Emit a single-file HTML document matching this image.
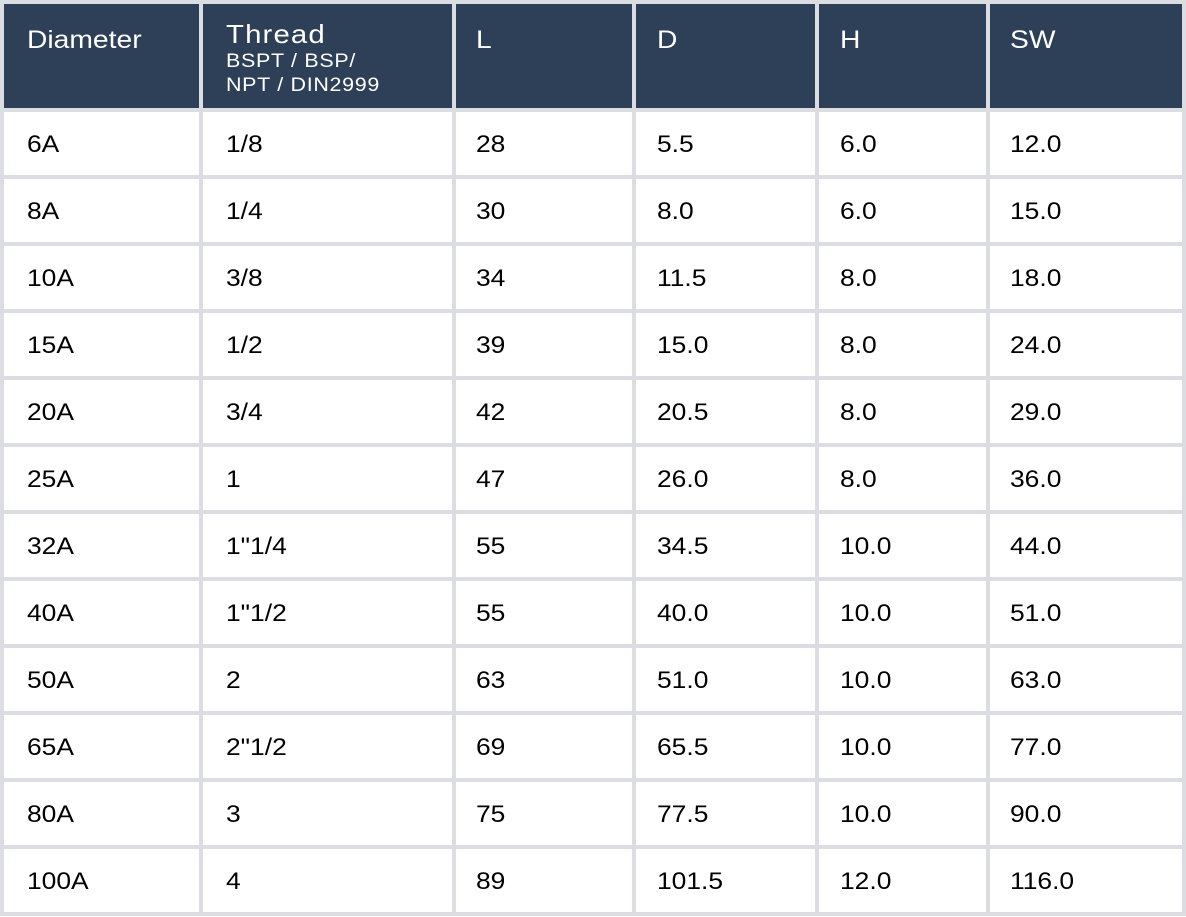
<!DOCTYPE html>
<html><head><style>
body{margin:0;width:1186px;height:917px;background:#fff;font-family:"Liberation Sans",Arial,sans-serif;position:relative;overflow:hidden}
.bg{position:absolute;left:0;top:0;width:1186px;height:916px;background:#dcdde2}
.c{position:absolute;background:#fff;color:#000;font-size:24px;box-sizing:border-box;display:flex;align-items:center}
.c span{display:inline-block;transform:scaleX(1.1);transform-origin:left center;white-space:nowrap}
.h{background:#2e4058;color:#fff;align-items:flex-start;padding-top:22px;font-size:25px}
.h span{transform:scaleX(1.13)}
.sub{font-size:19px;line-height:24px;letter-spacing:0.6px;margin-top:3px}
</style></head><body>
<div class="bg"></div>
<div id="t"></div>
<script>
var xs=[[4,199,23],[203,452,23],[456,632,20],[636,815,21],[819,986,21],[990,1182,20]];
var head=["Diameter","<div style='font-size:26px;letter-spacing:1px;line-height:26px;margin-top:-5px'>Thread</div><div class='sub'>BSPT / BSP/<br>NPT / DIN2999</div>","L","D","H","SW"];
var rows=[["6A","1/8","28","5.5","6.0","12.0"],["8A","1/4","30","8.0","6.0","15.0"],["10A","3/8","34","11.5","8.0","18.0"],["15A","1/2","39","15.0","8.0","24.0"],["20A","3/4","42","20.5","8.0","29.0"],["25A","1","47","26.0","8.0","36.0"],["32A","1\"1/4","55","34.5","10.0","44.0"],["40A","1\"1/2","55","40.0","10.0","51.0"],["50A","2","63","51.0","10.0","63.0"],["65A","2\"1/2","69","65.5","10.0","77.0"],["80A","3","75","77.5","10.0","90.0"],["100A","4","89","101.5","12.0","116.0"]];
var h="";
xs.forEach(function(x,j){h+="<div class='c h' style='left:"+x[0]+"px;top:4px;width:"+(x[1]-x[0])+"px;height:104px;padding-left:"+x[2]+"px'><span>"+head[j]+"</span></div>";});
rows.forEach(function(r,i){var y=112+i*67;xs.forEach(function(x,j){h+="<div class='c' style='left:"+x[0]+"px;top:"+y+"px;width:"+(x[1]-x[0])+"px;height:63px;padding-left:"+x[2]+"px;padding-top:2px'><span>"+r[j]+"</span></div>";});});
document.getElementById("t").innerHTML=h;
</script>
</body></html>
